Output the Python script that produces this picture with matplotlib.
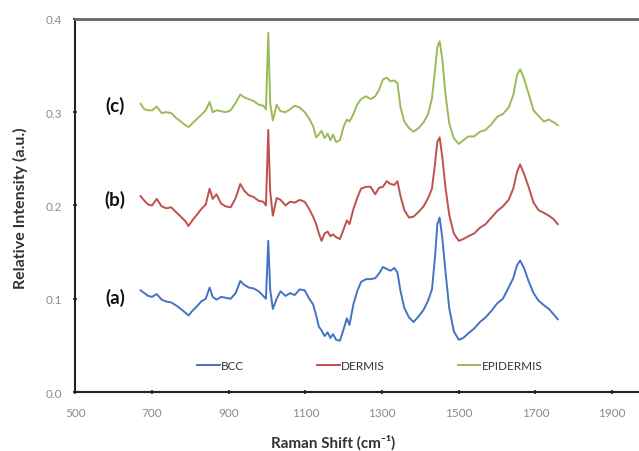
import matplotlib
matplotlib.use("Agg")
import matplotlib.pyplot as plt

plt.rcParams['font.family'] = ['Lato', 'DejaVu Sans']

# Raman shift (cm-1)
shift = [670, 680, 690, 700, 712, 725, 737, 750, 762, 775, 787, 795, 805, 815, 828,
         840, 850, 858, 868, 880, 892, 905, 918, 930, 940, 952, 965, 978, 990, 997,
         1003, 1008, 1015, 1025, 1035, 1048, 1060, 1072, 1085, 1098, 1110, 1120, 1128,
         1135, 1142, 1150, 1158, 1165, 1172, 1180, 1190, 1200, 1208, 1215, 1225, 1235,
         1245, 1258, 1270, 1282, 1292, 1302, 1312, 1322, 1332, 1340, 1348, 1358, 1370,
         1382, 1395, 1408, 1420, 1430, 1438, 1444, 1450, 1457, 1465, 1475, 1487, 1500,
         1512, 1525, 1540, 1555, 1570, 1585, 1600, 1615, 1630, 1642, 1652, 1660, 1670,
         1682, 1695, 1708, 1722, 1735, 1748, 1758]

bcc = [.109, .106, .103, .102, .105, .099, .097, .096, .093, .089, .085, .082, .087, .091, .097,
       .100, .112, .102, .099, .102, .101, .100, .106, .119, .115, .112, .111, .108, .103, .100,
       .162, .110, .089, .100, .108, .103, .106, .104, .110, .109, .100, .094, .082,
       .070, .066, .060, .064, .058, .062, .056, .055, .068, .079, .072, .094, .108,
       .118, .121, .121, .122, .127, .134, .132, .130, .133, .128, .108, .090, .080,
       .075, .081, .088, .098, .110, .145, .180, .187, .165, .130, .090, .065, .056,
       .058, .063, .068, .075, .080, .087, .095, .100, .112, .122, .136, .141, .133,
       .119, .106, .098, .093, .089, .083, .078]

dermis = [.210, .205, .201, .200, .207, .199, .197, .198, .193, .188, .183, .178, .184, .189, .196,
          .201, .218, .207, .212, .202, .199, .198, .208, .223, .216, .211, .209, .205, .204, .200,
          .281, .215, .189, .208, .206, .200, .204, .203, .206, .204, .196, .188, .180,
          .170, .162, .170, .172, .167, .169, .166, .164, .175, .184, .180, .196, .208,
          .218, .220, .220, .212, .219, .220, .226, .223, .222, .226, .210, .195, .187,
          .188, .193, .199, .208, .218, .245, .268, .273, .252, .220, .190, .170, .162,
          .164, .167, .170, .176, .180, .187, .194, .199, .206, .218, .236, .244, .234,
          .220, .203, .195, .192, .189, .185, .180]

epidermis = [.309, .303, .302, .302, .306, .299, .300, .299, .294, .290, .286, .284, .288, .292, .297,
             .302, .311, .300, .302, .301, .300, .302, .310, .319, .316, .314, .312, .308, .307, .303,
             .385, .310, .291, .308, .301, .300, .303, .307, .305, .300, .293, .285, .273,
             .276, .280, .272, .277, .270, .276, .268, .270, .285, .292, .290, .298, .308,
             .314, .317, .314, .317, .324, .335, .337, .333, .334, .331, .305, .290, .283,
             .279, .283, .289, .298, .315, .345, .370, .376, .357, .320, .288, .272, .266,
             .270, .274, .274, .279, .281, .287, .295, .298, .305, .318, .340, .346, .336,
             .320, .302, .296, .290, .292, .289, .286]

series_names = ['BCC', 'DERMIS', 'EPIDERMIS']
panel_labels = ['(a)', '(b)', '(c)']
panel_y = [0.102, 0.207, 0.308]
colors = ['#4472C4', '#C0504D', '#9BBB59']

fig = plt.figure(figsize=(6.39, 4.52), dpi=100)
# axes runs past the right edge of the picture (cropped like the original)
ax = fig.add_axes([0.118, 0.1305, 0.9, 0.8255])

for ys, name, c in zip([bcc, dermis, epidermis], series_names, colors):
    ax.plot(shift, ys, color=c, lw=1.4, label=name)

for lab, y in zip(panel_labels, panel_y):
    ax.text(603, y, lab, fontsize=13.5, fontweight='bold', ha='center', va='center', color='#111111')

ax.set_xlim(500, 2000)
ax.set_ylim(0, 0.4)
ax.set_xticks([500, 700, 900, 1100, 1300, 1500, 1700, 1900])
ax.set_yticks([0.0, 0.1, 0.2, 0.3, 0.4])
ax.set_yticklabels(['0.0', '0.1', '0.2', '0.3', '0.4'])
ax.tick_params(labelsize=8.5, labelcolor='#8a8a8a', color='#222222', length=3,
               direction='inout', width=1.2)
ax.tick_params(axis='x', pad=9)
ax.tick_params(axis='y', pad=8)

for side in ['left', 'bottom']:
    ax.spines[side].set_color('#222222')
    ax.spines[side].set_linewidth(1.5)
ax.spines['top'].set_color('#666666')
ax.spines['top'].set_linewidth(2)
ax.spines['right'].set_visible(False)

ax.set_xlabel('Raman Shift (cm⁻¹)', fontsize=11, fontweight='bold', color='#333333')
ax.xaxis.set_label_coords(0.448, -0.112)
ax.set_ylabel('Relative Intensity (a.u.)', fontsize=11.5, fontweight='bold', color='#333333')
ax.yaxis.set_label_coords(-0.083, 0.495)

ax.legend(loc='center', bbox_to_anchor=(0.512, 0.072), ncol=3, frameon=False,
          fontsize=8.5, handlelength=1.9, handletextpad=0.1, columnspacing=6.2,
          labelcolor='#333333')

fig.savefig('out.png', dpi=100)
